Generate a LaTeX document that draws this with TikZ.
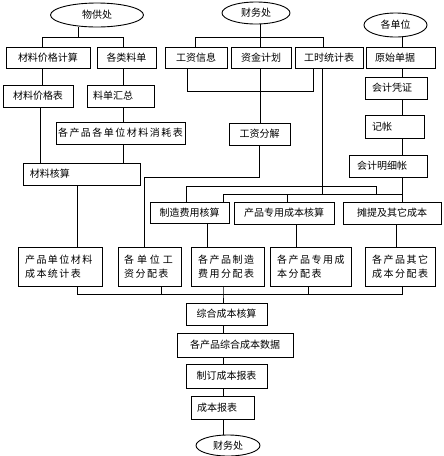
\documentclass[tikz,border=0pt]{standalone}
\usepackage{fontspec}
\setmainfont{Noto Sans CJK SC}
\newfontfamily\widecjk[LetterSpace=15]{Noto Sans CJK SC}
\usetikzlibrary{shapes.geometric}
\tikzset{
  ln/.style={line width=0.9pt, line cap=rect},
  bx/.style={draw, line width=0.9pt, inner sep=0pt, font=\fontsize{10}{14}\selectfont},
  lbx/.style={draw, line width=0.9pt, inner ysep=0pt, align=left, font=\fontsize{10}{14}\selectfont},
  wbx/.style={draw, line width=0.9pt, inner ysep=0pt, inner xsep=7pt, align=left, font=\widecjk\fontsize{10}{14.5}\selectfont},
  el/.style={draw, ellipse, line width=0.9pt, inner sep=0pt, font=\fontsize{10}{12}\selectfont}
}
\begin{document}
\begin{tikzpicture}[x=1pt,y=-1pt]
\useasboundingbox[fill=white] (0,0) rectangle (444,456);
% ellipses
\node[el, minimum width=93pt, minimum height=24pt] (e1) at (97,15) {物供处};
\node[el, minimum width=68pt, minimum height=22pt] (e2) at (256,13) {财务处};
\node[el, minimum width=63pt, minimum height=24pt] (e3) at (395.5,25) {各单位};
\node[el, minimum width=64pt, minimum height=21pt] (e4) at (228,445.5) {财务处};
% top row
\node[bx, minimum width=84pt, minimum height=21pt] (b1) at (48,57.5) {材料价格计算};
\node[bx, minimum width=59pt, minimum height=21pt] (b2) at (126.5,57.5) {各类料单};
\node[bx, minimum width=62pt, minimum height=21pt] (b3) at (196,57.5) {工资信息};
\node[bx, minimum width=60pt, minimum height=21pt] (b4) at (261,57.5) {资金计划};
\node[bx, minimum width=68pt, minimum height=21pt] (b5) at (329,57.5) {工时统计表};
\node[lbx, inner xsep=9pt, text width=51pt, minimum height=21pt] (b6) at (400.5,57.5) {原始单据};
% second row
\node[bx, minimum width=70pt, minimum height=22pt] (b7) at (38,96) {材料价格表};
\node[lbx, inner xsep=6pt, text width=55pt, minimum height=22pt] (b8) at (120.5,96) {料单汇总};
\node[lbx, inner xsep=7pt, text width=48pt, minimum height=22pt] (b9) at (396,88) {会计凭证};
\node[lbx, inner xsep=7pt, text width=45pt, minimum height=23pt] (b10) at (394.5,126.5) {记帐};
\node[bx, minimum width=129pt, minimum height=22pt, font=\widecjk\fontsize{10}{14}\selectfont] (b11) at (120.5,133) {各产品各单位材料消耗表};
\node[bx, minimum width=61pt, minimum height=22pt] (b12) at (259.5,134) {工资分解};
\node[lbx, inner xsep=8pt, text width=62pt, minimum height=22pt] (b13) at (388,166) {会计明细帐};
\node[lbx, inner xsep=7pt, text width=103pt, minimum height=22pt] (b14) at (81.5,174) {材料核算};
% cost accounting row
\node[bx, minimum width=79pt, minimum height=21pt] (b15) at (189.5,212.5) {制造费用核算};
\node[bx, minimum width=100pt, minimum height=22pt] (b16) at (284,213) {产品专用成本核算};
\node[bx, minimum width=98pt, minimum height=22pt] (b17) at (392,213) {摊提及其它成本};
% allocation tables
\node[wbx, text width=70pt, minimum height=39pt] (b18) at (60,266.5) {产品单位材料\\成本统计表};
\node[wbx, inner xsep=6pt, text width=51pt, minimum height=39pt] (b19) at (149.5,266.5) {\mbox{各\hspace{3pt}单\hspace{3pt}位\hspace{3pt}工}\\资分配表};
\node[wbx, text width=59pt, minimum height=39pt] (b20) at (227.5,266.5) {各产品制造\\费用分配表};
\node[wbx, text width=67pt, minimum height=39pt] (b21) at (310.5,266.5) {各产品专用成\\本分配表};
\node[wbx, text width=56pt, minimum height=39pt] (b22) at (400,266.5) {各产品其它\\成本分配表};
% bottom chain
\node[bx, minimum width=81pt, minimum height=22pt] (b23) at (226.5,314) {综合成本核算};
\node[bx, minimum width=116pt, minimum height=24pt] (b24) at (235,345) {各产品综合成本数据};
\node[bx, minimum width=81pt, minimum height=24pt] (b25) at (226.5,376) {制订成本报表};
\node[lbx, inner xsep=6pt, text width=51pt, minimum height=23pt] (b26) at (222.5,407.5) {成本报表};
% --- connectors: 物供处 group
\coordinate (t0) at (78,37);
\coordinate (t1) at (42,37);
\coordinate (t2) at (123,37);
\coordinate (x40) at (40,0);
\draw[ln] (e1.south -| t0) -- (t0);
\draw[ln] (b1.north -| t1) -- (t1) -- (t2) -- (b2.north -| t2);
\draw[ln] (b1.south -| t1) -- (b7.north -| t1);
\draw[ln] (b2.south -| t2) -- (b8.north -| t2);
\draw[ln] (b8.south -| t2) -- (b11.north -| t2);
\draw[ln] (b11.south -| t2) -- (b14.north -| t2);
\draw[ln] (b7.south -| x40) -- (b14.north -| x40);
% 财务处 group
\coordinate (t3) at (195,37);
\coordinate (t4) at (260,37);
\coordinate (t5) at (323,37);
\draw[ln] (e2.south -| t4) -- (t4);
\draw[ln] (b3.north -| t3) -- (t3) -- (t5) -- (b5.north -| t5);
\draw[ln] (t4) -- (b4.north -| t4);
\coordinate (m1) at (187,91);
\coordinate (m2) at (313,91);
\draw[ln] (b3.south -| m1) -- (m1) -- (m2) -- (b5.south -| m2);
\draw[ln] (b4.south -| t4) -- (b12.north -| t4);
\coordinate (w1) at (259,177);
\coordinate (w2) at (144,177);
\draw[ln] (b12.south -| w1) -- (w1) -- (w2) -- (b19.north -| w2);
\coordinate (g1) at (322,194);
\draw[ln] (b5.south -| g1) -- (g1);
% 各单位 column
\coordinate (r0) at (402,0);
\draw[ln] (e3.south -| r0) -- (b6.north -| r0);
\draw[ln] (b6.south -| r0) -- (b9.north -| r0);
\draw[ln] (b9.south -| r0) -- (b10.north -| r0);
\draw[ln] (b10.south -| r0) -- (b13.north -| r0);
\draw[ln] (b13.south -| r0) -- (b17.north -| r0);
% distribution buses
\coordinate (k1) at (186,186);
\coordinate (k2) at (376,186);
\coordinate (k3) at (376,194);
\coordinate (k4) at (223,194);
\coordinate (k5) at (402,194);
\coordinate (k6) at (287,194);
\draw[ln] (b15.north -| k1) -- (k1) -- (k2) -- (k3);
\draw[ln] (b15.north -| k4) -- (k4) -- (k5);
\draw[ln] (k6) -- (b16.north -| k6);
% down to tables
\coordinate (x77) at (77,0);
\coordinate (x207) at (207,0);
\coordinate (x296) at (296,0);
\coordinate (x396) at (396,0);
\draw[ln] (b14.south -| x77) -- (b18.north -| x77);
\draw[ln] (b15.south -| x207) -- (b20.north -| x207);
\draw[ln] (b16.south -| x296) -- (b21.north -| x296);
\draw[ln] (b17.south -| x396) -- (b22.north -| x396);
% bottom bus
\coordinate (u1) at (77,294);
\coordinate (u2) at (161,294);
\coordinate (u3) at (223,294);
\coordinate (u4) at (308,294);
\coordinate (u5) at (402,294);
\draw[ln] (b18.south -| u1) -- (u1) -- (u5) -- (b22.south -| u5);
\draw[ln] (b19.south -| u2) -- (u2);
\draw[ln] (b21.south -| u4) -- (u4);
\draw[ln] (b20.south -| u3) -- (u3) -- (b23.north -| u3);
\draw[ln] (b23.south -| u3) -- (b24.north -| u3);
\draw[ln] (b24.south -| u3) -- (b25.north -| u3);
\draw[ln] (b25.south -| u3) -- (b26.north -| u3);
\draw[ln] (b26.south -| u3) -- (e4.north -| u3);
\end{tikzpicture}
\end{document}
